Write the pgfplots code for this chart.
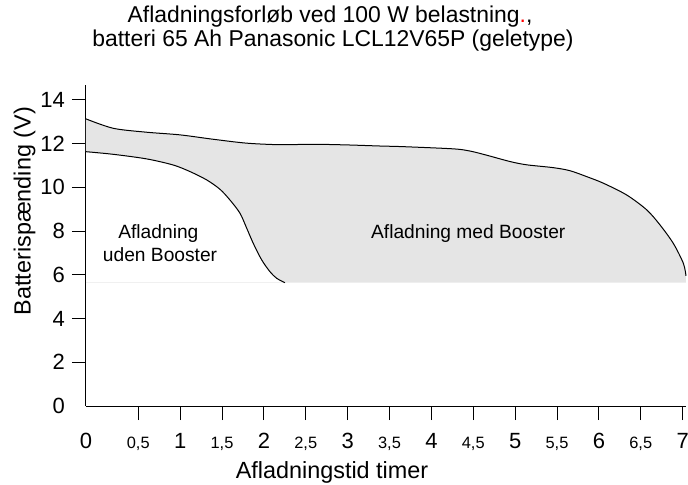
\documentclass[border=0pt]{standalone}
\usepackage{fontspec}
\setmainfont{Liberation Sans}
\usepackage{pgfplots}
\usepackage{pgfplotstable}
\pgfplotsset{compat=1.18}
\usepgfplotslibrary{fillbetween}
\newcommand{\hs}[1]{{\fontsize{8.2}{9}\selectfont #1}}

\pgfplotstableread{
x y
-0.124 13.13
0.202 12.70
0.601 12.52
0.998 12.40
1.392 12.20
1.795 12.02
2.192 11.95
2.586 11.97
2.989 11.94
3.386 11.89
3.665 11.86
4.262 11.76
4.461 11.66
4.660 11.47
4.939 11.18
5.138 11.03
5.456 10.90
5.655 10.76
5.854 10.49
6.053 10.19
6.332 9.65
6.571 8.97
6.730 8.28
6.888 7.44
7.008 6.53
7.040 5.95
}\uppertab

\pgfplotstableread{
x y
-0.124 11.63
0.202 11.51
0.601 11.30
0.918 11.02
1.118 10.72
1.317 10.34
1.476 9.91
1.595 9.42
1.714 8.82
1.795 8.13
1.873 7.44
1.974 6.68
2.073 6.14
2.153 5.84
2.252 5.64
}\lowertab

\begin{document}
\begin{tikzpicture}
\begin{axis}[
  scale only axis, width=300pt, height=160.5pt,
  xmin=-0.124, xmax=7.04, ymin=0, ymax=14.68,
  axis lines=left, axis line style={-, line width=0.5pt},
  clip=false,
  tick align=outside, major tick length=7pt,
  tick style={black, line width=0.5pt},
  /pgf/number format/assume math mode=true,
  every tick label/.append style={font=\fontsize{11}{12}\selectfont},
  xtick={0.5,1,1.5,2,2.5,3,3.5,4,4.5,5,5.5,6,6.5,7},
  xticklabels={{\hs{0,5}},1,{\hs{1,5}},2,{\hs{2,5}},3,{\hs{3,5}},4,{\hs{4,5}},5,{\hs{5,5}},6,{\hs{6,5}},7},
  xticklabel style={anchor=base, yshift=-14pt},
  extra x ticks={-0.124}, extra x tick labels={0},
  extra x tick style={major tick length=0pt, xticklabel style={yshift=-7pt}},
  ytick={2,4,6,8,10,12,14},
  extra y ticks={0},
  extra y tick style={major tick length=0pt, yticklabel style={xshift=-7pt}},
  xlabel={Afladningstid timer},
  xlabel style={font=\fontsize{11.7}{13}\selectfont, anchor=base, at={(axis description cs:0.41,-0.2243)}},
  ylabel={Batterispænding (V)},
  ylabel style={font=\fontsize{11.7}{13}\selectfont, anchor=base, at={(axis description cs:-0.0922,0.607)}},
]
\addplot[name path=U, draw=none, smooth] table {\uppertab};
\addplot[name path=L, draw=none, smooth] coordinates {
(-0.124,11.63) (0.202,11.51) (0.601,11.30) (0.918,11.02) (1.118,10.72) (1.317,10.34)
(1.476,9.91) (1.595,9.42) (1.714,8.82) (1.795,8.13) (1.873,7.44) (1.974,6.68)
(2.073,6.14) (2.153,5.84) (2.252,5.64) (2.300,5.64) (7.040,5.64)};
\addplot[fill=black!10, draw=none] fill between[of=U and L];
\addplot[black!6, line width=0.5pt] coordinates {(-0.124,5.64) (2.252,5.64)};
\addplot[black, line width=0.5pt, smooth] table {\uppertab};
\addplot[black, line width=0.5pt, smooth] table {\lowertab};

\node[anchor=base, font=\fontsize{9.6}{11}\selectfont] at (axis cs:4.44,7.67) {Afladning med Booster};
\node[anchor=base, font=\fontsize{9.6}{11}\selectfont] at (axis cs:0.74,7.67) {Afladning};
\node[anchor=base, font=\fontsize{9.6}{11}\selectfont] at (axis cs:0.76,6.60) {uden Booster};

\node[anchor=base, font=\fontsize{11.45}{13}\selectfont] at (axis description cs:0.4067,1.1941) {Afladningsforløb ved 100 W belastning\textcolor{red}{.},};
\node[anchor=base, font=\fontsize{11.45}{13}\selectfont] at (axis description cs:0.4117,1.1193) {batteri 65 Ah Panasonic LCL12V65P (geletype)};

\coordinate (ll) at (rel axis cs:0,0);
\coordinate (ur) at (rel axis cs:1,1);
\end{axis}
\pgfresetboundingbox
\path[use as bounding box] ([shift={(-43pt,-39pt)}]ll) rectangle ([shift={(1pt,42.5pt)}]ur);
\end{tikzpicture}
\end{document}
